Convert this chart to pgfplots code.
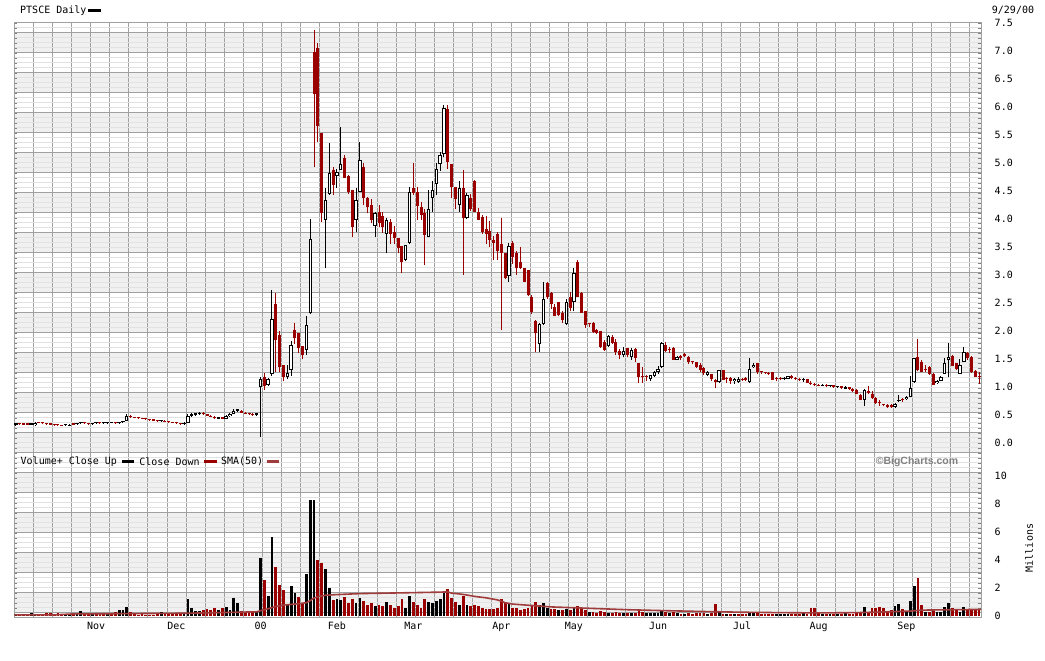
\documentclass[border=0pt]{standalone}
\usepackage{pgfplots}
\pgfplotsset{compat=1.18}
\usepackage{pgfplotstable}
\usepackage{fontspec}
\setmainfont{DejaVu Sans Mono}
\newfontfamily\wmfont{Liberation Sans}

\definecolor{dnred}{RGB}{155,0,0}
\definecolor{smared}{RGB}{160,60,60}
\definecolor{gridmaj}{RGB}{160,160,160}
\definecolor{gridmin}{RGB}{226,226,226}
\definecolor{band}{RGB}{240,240,240}

% i open high low close volume(millions) volume-up-flag
\pgfplotstableread{
i o h l c v vu
0 0.33 0.36 0.31 0.34 0.08 1
1 0.35 0.36 0.33 0.34 0.10 0
2 0.34 0.35 0.32 0.33 0.12 0
3 0.34 0.35 0.32 0.33 0.10 0
4 0.33 0.34 0.32 0.33 0.20 1
5 0.32 0.37 0.31 0.36 0.15 1
6 0.37 0.38 0.35 0.36 0.10 0
7 0.36 0.37 0.34 0.35 0.12 0
8 0.35 0.36 0.33 0.34 0.18 0
9 0.34 0.35 0.32 0.33 0.20 0
10 0.33 0.34 0.31 0.32 0.15 0
11 0.33 0.34 0.31 0.32 0.22 0
12 0.32 0.33 0.30 0.31 0.10 0
13 0.32 0.33 0.31 0.32 0.08 1
14 0.31 0.34 0.30 0.33 0.10 1
15 0.34 0.35 0.32 0.33 0.12 0
16 0.34 0.36 0.33 0.35 0.15 1
17 0.35 0.37 0.34 0.36 0.35 1
18 0.36 0.37 0.34 0.35 0.12 0
19 0.35 0.36 0.33 0.34 0.15 0
20 0.34 0.36 0.33 0.35 0.18 1
21 0.35 0.36 0.34 0.35 0.15 0
22 0.36 0.37 0.34 0.35 0.18 0
23 0.35 0.36 0.34 0.35 0.12 0
24 0.35 0.37 0.34 0.36 0.20 1
25 0.36 0.37 0.35 0.36 0.15 0
26 0.36 0.37 0.34 0.35 0.30 0
27 0.35 0.38 0.34 0.37 0.45 1
28 0.37 0.39 0.36 0.38 0.40 1
29 0.40 0.52 0.39 0.48 0.62 1
30 0.48 0.50 0.45 0.46 0.30 0
31 0.46 0.47 0.44 0.45 0.20 0
32 0.45 0.46 0.43 0.44 0.10 0
33 0.44 0.45 0.42 0.43 0.12 0
34 0.43 0.44 0.41 0.42 0.10 0
35 0.42 0.43 0.40 0.41 0.10 0
36 0.41 0.42 0.39 0.40 0.10 0
37 0.40 0.41 0.38 0.39 0.15 0
38 0.39 0.41 0.38 0.40 0.30 1
39 0.40 0.41 0.37 0.38 0.20 0
40 0.38 0.39 0.36 0.37 0.12 0
41 0.37 0.38 0.35 0.36 0.20 0
42 0.36 0.37 0.34 0.35 0.25 0
43 0.35 0.36 0.33 0.34 0.12 0
44 0.34 0.37 0.33 0.36 0.15 1
45 0.36 0.52 0.35 0.48 1.20 1
46 0.49 0.54 0.47 0.52 0.55 1
47 0.50 0.54 0.49 0.53 0.38 1
48 0.52 0.55 0.50 0.54 0.38 1
49 0.54 0.55 0.50 0.51 0.45 0
50 0.51 0.52 0.48 0.49 0.50 0
51 0.49 0.50 0.46 0.47 0.45 0
52 0.47 0.48 0.42 0.44 0.55 0
53 0.43 0.47 0.42 0.46 0.40 1
54 0.46 0.47 0.42 0.43 0.58 0
55 0.43 0.50 0.42 0.48 0.62 1
56 0.48 0.54 0.47 0.52 0.45 1
57 0.52 0.60 0.51 0.58 1.28 1
58 0.58 0.61 0.55 0.59 0.90 1
59 0.58 0.59 0.53 0.54 0.35 0
60 0.54 0.55 0.51 0.52 0.30 0
61 0.52 0.54 0.50 0.51 0.35 0
62 0.51 0.53 0.49 0.50 0.30 0
63 0.50 0.54 0.49 0.53 0.35 1
64 1.00 1.18 0.11 1.14 4.17 1
65 1.17 1.25 0.95 1.01 2.57 0
66 1.04 1.16 1.02 1.14 1.43 1
67 1.23 2.74 1.20 2.21 5.62 1
68 2.49 2.68 1.27 1.84 3.52 0
69 1.93 2.00 1.27 1.36 2.21 0
70 1.39 1.39 1.10 1.18 1.86 0
71 1.18 1.39 1.14 1.25 0.79 1
72 1.30 1.82 1.20 1.75 2.17 1
73 2.02 2.15 1.77 1.87 1.67 1
74 1.96 1.96 1.60 1.70 1.38 0
75 1.73 1.73 1.50 1.57 0.90 0
76 1.66 2.26 1.57 2.11 3.00 1
77 2.32 4.00 2.30 3.64 8.29 1
78 6.99 7.38 4.93 6.24 8.29 1
79 7.05 7.14 5.38 5.66 4.00 0
80 5.53 5.53 3.95 4.11 3.76 0
81 3.99 4.55 3.12 4.34 3.33 1
82 4.45 5.36 4.43 4.83 1.98 1
83 4.88 4.93 4.43 4.61 1.14 0
84 4.76 4.90 4.55 4.84 1.19 1
85 4.88 5.64 4.88 4.99 1.14 1
86 5.09 5.15 4.73 4.74 1.38 0
87 4.76 4.78 4.45 4.49 0.95 0
88 4.52 4.52 3.68 3.86 1.20 0
89 3.99 4.55 3.77 4.34 0.90 1
90 4.49 5.38 4.49 5.05 1.30 1
91 4.93 5.00 4.25 4.37 1.10 0
92 4.37 4.40 4.10 4.22 0.80 0
93 4.25 4.35 3.92 3.98 0.90 0
94 3.88 4.13 3.68 4.11 0.70 1
95 4.13 4.25 3.85 3.92 0.80 0
96 4.05 4.13 3.75 3.85 0.70 0
97 3.74 4.02 3.39 3.99 1.00 1
98 3.95 4.00 3.55 3.74 0.80 0
99 3.77 3.87 3.55 3.66 0.60 0
100 3.66 3.66 3.39 3.48 0.70 0
101 3.51 3.51 3.03 3.24 1.20 0
102 3.27 3.54 3.25 3.54 0.60 1
103 3.58 4.58 3.55 4.49 1.40 1
104 4.55 5.00 4.43 4.46 1.00 0
105 4.49 4.58 3.98 4.23 0.80 0
106 4.22 4.30 3.98 4.07 0.60 0
107 4.10 4.17 3.18 3.71 1.20 0
108 3.67 4.52 3.67 4.17 1.00 1
109 4.37 4.67 4.13 4.52 0.90 1
110 4.63 5.00 4.43 4.89 1.10 1
111 4.98 5.20 4.86 5.14 1.20 1
112 5.16 6.04 5.10 5.99 1.80 1
113 5.96 6.04 4.89 5.01 1.90 0
114 4.99 4.99 4.37 4.58 1.30 0
115 4.58 4.58 4.18 4.35 1.00 0
116 4.25 4.67 4.13 4.55 0.80 1
117 4.55 4.88 3.00 4.01 1.40 0
118 4.01 4.47 4.00 4.43 0.80 1
119 4.37 4.45 4.15 4.17 0.70 0
120 4.68 4.70 4.12 4.13 0.80 0
121 4.13 4.20 3.98 3.99 0.70 0
122 4.04 4.07 3.74 3.77 0.60 0
123 3.83 4.05 3.55 3.74 0.50 0
124 3.79 3.97 3.50 3.63 0.50 0
125 3.63 3.70 3.27 3.58 0.50 0
126 3.74 3.77 3.27 3.42 0.60 0
127 3.56 4.01 2.02 3.39 1.20 0
128 3.39 3.39 2.92 2.94 1.00 0
129 2.98 3.57 2.88 3.52 0.90 1
130 3.57 3.60 3.20 3.33 0.60 0
131 3.39 3.42 3.00 3.12 0.60 0
132 3.24 3.50 3.10 3.12 0.40 0
133 3.12 3.12 2.88 2.88 0.50 0
134 3.09 3.09 2.62 2.64 0.60 0
135 2.61 2.65 2.30 2.34 0.80 0
136 2.17 2.20 1.63 1.96 1.00 0
137 1.77 2.15 1.63 2.13 0.80 1
138 2.13 2.88 2.10 2.58 0.90 1
139 2.85 2.88 2.58 2.61 0.60 1
140 2.68 2.70 2.40 2.49 0.50 0
141 2.43 2.48 2.26 2.26 0.50 0
142 2.51 2.52 2.26 2.29 0.40 1
143 2.32 2.35 2.15 2.20 0.40 0
144 2.13 2.58 2.10 2.52 0.50 1
145 2.61 2.70 2.35 2.41 0.40 0
146 2.51 3.12 2.35 3.03 0.60 1
147 3.24 3.26 2.61 2.61 0.70 0
148 2.68 2.70 2.32 2.32 0.50 0
149 2.36 2.36 2.05 2.11 0.40 0
150 2.15 2.15 2.08 2.12 0.30 1
151 2.15 2.16 1.96 1.99 0.30 0
152 2.02 2.04 1.95 1.97 0.25 0
153 2.00 2.00 1.70 1.72 0.35 0
154 1.81 1.84 1.64 1.66 0.30 0
155 1.73 1.93 1.72 1.91 0.25 1
156 1.90 1.93 1.77 1.79 0.20 0
157 1.81 1.86 1.58 1.63 0.30 0
158 1.65 1.67 1.50 1.57 0.25 0
159 1.57 1.72 1.53 1.65 0.20 1
160 1.69 1.69 1.53 1.57 0.20 0
161 1.53 1.69 1.48 1.66 0.20 1
162 1.68 1.70 1.44 1.52 0.20 0
163 1.42 1.42 1.08 1.18 0.40 0
164 1.20 1.35 1.08 1.17 0.30 0
165 1.20 1.22 1.11 1.18 0.20 1
166 1.14 1.22 1.11 1.21 0.20 1
167 1.20 1.29 1.18 1.26 0.20 1
168 1.26 1.37 1.24 1.33 0.25 1
169 1.36 1.80 1.34 1.78 0.45 1
170 1.75 1.80 1.63 1.65 0.30 0
171 1.68 1.72 1.60 1.66 0.20 1
172 1.69 1.72 1.49 1.49 0.30 0
173 1.49 1.56 1.48 1.54 0.20 1
174 1.55 1.58 1.48 1.52 0.15 0
175 1.59 1.60 1.53 1.55 0.15 1
176 1.53 1.56 1.41 1.45 0.20 0
177 1.46 1.47 1.41 1.44 0.15 0
178 1.45 1.45 1.34 1.36 0.20 0
179 1.39 1.42 1.27 1.30 0.20 0
180 1.34 1.36 1.22 1.25 0.20 0
181 1.21 1.28 1.19 1.26 0.15 1
182 1.23 1.24 1.10 1.14 0.20 0
183 1.13 1.14 0.98 1.09 0.86 0
184 1.09 1.31 1.08 1.30 0.31 1
185 1.30 1.31 1.12 1.13 0.15 0
186 1.16 1.17 1.08 1.14 0.12 1
187 1.16 1.17 1.06 1.11 0.12 0
188 1.10 1.16 1.06 1.14 0.12 1
189 1.09 1.17 1.08 1.14 0.12 0
190 1.15 1.16 1.11 1.13 0.12 0
191 1.16 1.17 1.10 1.12 0.12 0
192 1.09 1.51 1.08 1.33 0.31 1
193 1.35 1.42 1.34 1.39 0.20 1
194 1.42 1.43 1.24 1.26 0.31 0
195 1.28 1.29 1.24 1.26 0.12 0
196 1.26 1.27 1.23 1.25 0.12 0
197 1.25 1.26 1.22 1.23 0.12 0
198 1.26 1.26 1.12 1.13 0.12 0
199 1.16 1.17 1.10 1.14 0.12 1
200 1.15 1.17 1.12 1.14 0.12 1
201 1.14 1.17 1.12 1.15 0.12 1
202 1.15 1.20 1.14 1.19 0.15 1
203 1.19 1.21 1.15 1.16 0.12 0
204 1.16 1.18 1.13 1.14 0.12 0
205 1.14 1.16 1.11 1.12 0.12 0
206 1.12 1.16 1.09 1.15 0.26 1
207 1.14 1.15 1.07 1.08 0.12 0
208 1.08 1.10 1.04 1.05 0.60 0
209 1.06 1.08 1.02 1.03 0.60 0
210 1.04 1.06 1.01 1.02 0.31 0
211 1.02 1.05 1.01 1.04 0.12 1
212 1.04 1.05 1.00 1.01 0.12 0
213 1.01 1.04 1.00 1.03 0.12 1
214 1.03 1.04 0.99 1.00 0.12 0
215 1.00 1.02 0.98 1.01 0.12 1
216 1.01 1.02 0.97 0.98 0.12 0
217 0.97 1.01 0.96 1.00 0.31 1
218 1.00 1.00 0.95 0.96 0.12 0
219 0.96 0.98 0.91 0.92 0.12 0
220 0.95 0.97 0.87 0.88 0.20 0
221 0.86 0.88 0.76 0.77 0.30 0
222 0.77 0.96 0.66 0.95 0.67 1
223 0.93 1.02 0.88 0.89 0.31 0
224 0.88 0.92 0.78 0.80 0.55 0
225 0.80 0.82 0.70 0.72 0.55 0
226 0.74 0.77 0.66 0.72 0.67 0
227 0.69 0.70 0.66 0.68 0.55 0
228 0.68 0.69 0.63 0.64 0.26 0
229 0.68 0.69 0.63 0.64 0.45 0
230 0.64 0.71 0.63 0.70 0.74 1
231 0.75 0.86 0.74 0.77 0.86 1
232 0.78 0.80 0.74 0.76 0.50 0
233 0.78 0.84 0.76 0.82 0.31 1
234 0.83 1.20 0.82 0.98 1.07 1
235 1.09 1.51 1.08 1.51 2.14 1
236 1.53 1.85 1.28 1.30 2.74 0
237 1.45 1.48 1.26 1.27 0.79 0
238 1.33 1.39 1.26 1.30 0.26 1
239 1.36 1.37 1.22 1.23 0.26 0
240 1.23 1.25 1.03 1.04 0.36 0
241 1.07 1.12 1.05 1.11 0.26 1
242 1.11 1.19 1.10 1.17 0.26 1
243 1.24 1.51 1.23 1.42 0.67 1
244 1.48 1.79 1.17 1.53 0.95 1
245 1.55 1.58 1.37 1.38 0.60 0
246 1.42 1.43 1.30 1.32 0.45 0
247 1.24 1.50 1.23 1.39 0.31 1
248 1.45 1.72 1.44 1.63 0.67 1
249 1.61 1.62 1.49 1.51 0.45 0
250 1.53 1.55 1.25 1.26 0.40 0
251 1.29 1.30 1.17 1.18 0.40 0
252 1.20 1.27 1.05 1.17 0.40 0
}\stock

% 50-day moving average of volume (millions)
\pgfplotstableread{
i s
-0.5 0.08
10 0.08
15 0.15
30 0.17
45 0.20
55 0.25
63 0.30
64 0.38
66 0.52
68 0.68
70 0.78
74 0.88
76 0.95
77 1.10
78 1.28
79 1.38
81 1.48
84 1.53
90 1.60
100 1.65
110 1.70
113 1.72
114 1.63
116 1.58
118 1.50
120 1.40
123 1.30
126 1.15
128 0.95
130 0.85
135 0.75
140 0.65
150 0.55
160 0.45
170 0.38
180 0.32
190 0.27
200 0.24
210 0.22
220 0.24
228 0.30
234 0.35
237 0.42
245 0.45
252.5 0.47
}\sma

\pgfplotsset{
  upc/.style={restrict expr to domain={\thisrow{c}-\thisrow{o}}{0:100}},
  dnc/.style={restrict expr to domain={\thisrow{c}-\thisrow{o}}{-100:-0.00001}},
  vup/.style={restrict expr to domain={\thisrow{vu}}{0.5:1.5}},
  vdn/.style={restrict expr to domain={\thisrow{vu}}{-0.5:0.5}},
  stick/.style 2 args={draw=none, forget plot, error bars/.cd, y dir=plus, y explicit,
     error mark=none, error bar style={draw=#1, solid, line width=#2}},
  panel/.style={at={(14pt,-617pt)}, anchor=south west, scale only axis, width=967pt,
     xmin=-0.5, xmax=252.5, major tick length=0pt,
     /pgf/number format/assume math mode=true,
     tick label style={font=\fontsize{10}{12}\selectfont}},
}

\begin{document}
\begin{tikzpicture}
\path[use as bounding box] (0,0) rectangle (1045pt,-661pt);

% ---------- background grid (pixel units) ----------
\begin{axis}[panel, height=595pt, ymin=0, ymax=595,
  axis on top, axis line style={draw=gridmaj, line width=0.7pt},
  xtick={4.5,9.5,...,249.5}, xticklabels={},
  ytick={4.3,24.3,...,584.3}, yticklabels={},
  minor ytick={9.3,14.3,...,594.3},
  grid=both, major grid style={draw=gridmaj, line width=0.7pt},
  minor grid style={draw=gridmin, line width=0.5pt}]
\pgfplotsinvokeforeach{0,...,14}{
  \fill[band] (axis cs:-0.5,{4.3+40*#1}) rectangle (axis cs:252.5,{24.3+40*#1});
}
\end{axis}

% ---------- price panel ----------
\begin{axis}[panel, at={(14pt,-452pt)}, height=430pt, ymin=-0.1607, ymax=7.518,
  axis line style={draw=none}, xtick=\empty,
  ytick={0,0.5,1,1.5,2,2.5,3,3.5,4,4.5,5,5.5,6,6.5,7,7.5},
  yticklabel pos=right,
  yticklabel style={anchor=west, xshift=10.2pt, /pgf/number format/.cd, fixed, fixed zerofill, precision=1}]
% down candles
\addplot[dnc, stick={dnred}{1pt}] table[x=i, y=l, y error plus expr=\thisrow{h}-\thisrow{l}] {\stock};
\addplot[dnc, stick={dnred}{3pt}] table[x=i, y=c, y error plus expr={max(\thisrow{o}-\thisrow{c},0.02)}] {\stock};
% up candles (hollow)
\addplot[upc, stick={black}{1pt}] table[x=i, y=l, y error plus expr=\thisrow{h}-\thisrow{l}] {\stock};
\addplot[upc, stick={black}{3.4pt}] table[x=i, y=o, y error plus expr={max(\thisrow{c}-\thisrow{o},0.02)}] {\stock};
\addplot[upc, stick={white}{1.4pt}] table[x=i, y expr=\thisrow{o}+0.018, y error plus expr={max(\thisrow{c}-\thisrow{o}-0.036,0)}] {\stock};
\end{axis}

% ---------- volume panel ----------
\begin{axis}[panel, height=165pt, ymin=-0.0714, ymax=11.714,
  axis line style={draw=none},
  ytick={0,2,4,6,8,10}, yticklabel pos=right,
  yticklabel style={anchor=west, xshift=10.2pt},
  xtick={21,42,64,84,104,127,146,168,190,210,233},
  xticklabels={Nov,Dec,00,Feb,Mar,Apr,May,Jun,Jul,Aug,Sep},
  xticklabel style={yshift=-1.5pt},
  legend columns=-1, legend plot pos=right,
  legend style={at={(0,1)}, anchor=west, xshift=6.5pt, yshift=-9.5pt,
    draw=none, fill=none, inner sep=0pt, column sep=4pt,
    font=\fontsize{10}{12}\selectfont, nodes={inner sep=0pt}}]
\addplot[vup, draw=none, error bars/.cd, y dir=plus, y explicit, error mark=none,
   error bar style={draw=black, solid, line width=2.8pt}]
   table[x=i, y expr=0, y error plus=v] {\stock};
\addlegendentry{Volume+ Close Up}
\addplot[vdn, draw=none, error bars/.cd, y dir=plus, y explicit, error mark=none,
   error bar style={draw=dnred, solid, line width=2.8pt}]
   table[x=i, y expr=0, y error plus=v] {\stock};
\addlegendentry{Close Down}
\addplot[smared, line width=1.6pt] table[x=i, y=s] {\sma};
\addlegendentry{SMA(50)}
\legend{}
\end{axis}

% ---------- titles, legend text and labels ----------
\node[anchor=west, inner sep=0pt, font=\fontsize{10}{12}\selectfont] at (20pt,-10.5pt) {PTSCE Daily};
\draw[line width=2.8pt] (88pt,-10.7pt) -- (101pt,-10.7pt);
\node[inner sep=0pt, font=\fontsize{10}{12}\selectfont] at (1013pt,-10pt) {9/29/00};
\node[rotate=90, inner sep=0pt, font=\fontsize{10}{12}\selectfont] at (1029pt,-548pt) {Millions};
\node[inner sep=0pt, text=gray, font=\wmfont\bfseries\fontsize{10.5}{12}\selectfont] at (917pt,-461.5pt) {\textcopyright BigCharts.com};
% legend row of the volume panel
\node[anchor=west, inner sep=0pt, font=\fontsize{10}{12}\selectfont] (l1) at (20.5pt,-461.5pt) {Volume+ Close Up};
\draw[line width=2.7pt, black] ([xshift=5pt]l1.east) -- ++(12pt,0pt) coordinate (e1);
\node[anchor=west, inner sep=0pt, font=\fontsize{10}{12}\selectfont] (l2) at ([xshift=5pt]e1) {Close Down};
\draw[line width=2.7pt, dnred] ([xshift=4pt]l2.east) -- ++(13pt,0pt) coordinate (e2);
\node[anchor=west, inner sep=0pt, font=\fontsize{10}{12}\selectfont] (l3) at ([xshift=4pt]e2) {SMA(50)};
\draw[line width=2.7pt, smared] ([xshift=4pt]l3.east) -- ++(12pt,0pt);
\end{tikzpicture}
\end{document}
